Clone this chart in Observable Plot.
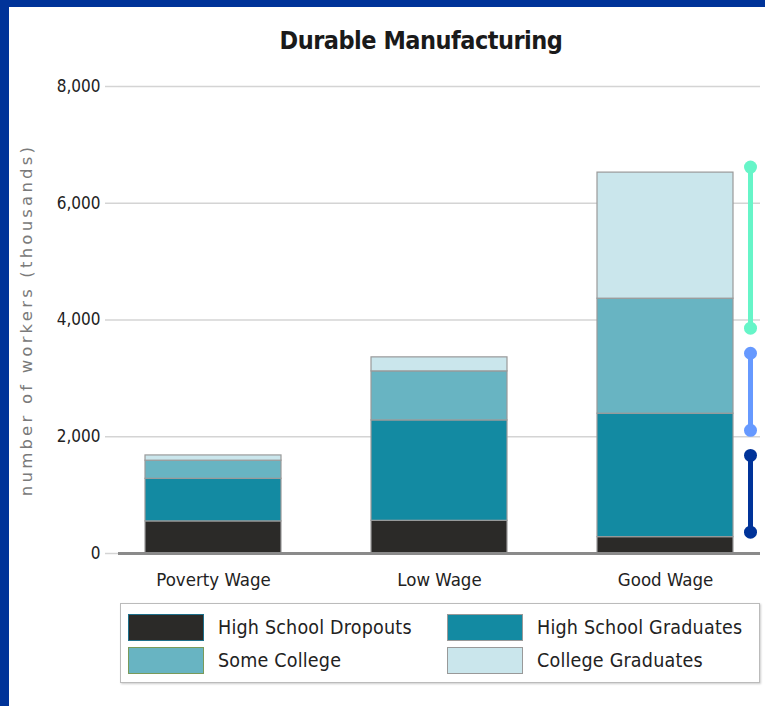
<!DOCTYPE html>
<html><head><meta charset="utf-8">
<script src="https://cdn.jsdelivr.net/npm/d3@7"></script>
<script src="https://cdn.jsdelivr.net/npm/@observablehq/plot@0.6"></script>
<style>
body{margin:0;background:#fff;width:765px;height:706px;position:relative;overflow:hidden;font-family:"DejaVu Sans Condensed","DejaVu Sans",sans-serif;color:#222}
#bt{position:absolute;left:0;top:0;width:765px;height:7px;background:#003399}
#bl{position:absolute;left:0;top:0;width:9px;height:706px;background:#003399}
#title{position:absolute;top:26px;left:121px;width:600px;text-align:center;font-size:25px;font-weight:bold;line-height:30px;color:#1a1a1a;letter-spacing:-0.5px}
#chart{position:absolute;left:0;top:0}
#legend{position:absolute;left:120px;top:603px;width:638px;height:78px;border:1px solid #bbb;box-shadow:1px 1px 2px #ccc;background:#fff}
.item{position:absolute;display:flex;align-items:center;font-size:19.5px;color:#222;letter-spacing:0.2px}
.sw{width:74px;height:25px;margin-right:14px;border:1px solid #999}
</style>
</head><body>
<div id="bt"></div><div id="bl"></div>
<div id="chart"></div>
<div id="title">Durable Manufacturing</div>
<div id="legend"></div>
<script>
const wages = ["Poverty Wage", "Low Wage", "Good Wage"];
const levels = ["High School Dropouts", "High School Graduates", "Some College", "College Graduates"];
const colors = ["#2b2a28", "#138aa2", "#68b4c2", "#cae6ec"];
const swatchBorders = ["#1d6f8a", "#999", "#7a9a5a", "#999"];
const dropouts = [550, 560, 280];
const hsGrads = [730, 1720, 2115];
const someCollege = [310, 840, 1970];
const collegeGrads = [90, 240, 2160];
const yTicks = [0, 2000, 4000, 6000, 8000];
const yLabel = "number of workers (thousands)";
const rangeTops = [6620, 3430, 1680];
const rangeBottoms = [3860, 2110, 365];
const rangeColors = ["#66f5c8", "#6699ff", "#003399"];

const series = [dropouts, hsGrads, someCollege, collegeGrads];
const rows = [];
wages.forEach((w, i) => levels.forEach((l, j) => rows.push({wage: w, level: l, value: series[j][i]})));
const ranges = rangeTops.map((t, i) => ({wage: "Good Wage", top: t, bottom: rangeBottoms[i], color: rangeColors[i]}));

const plot = Plot.plot({
  width: 765, height: 600,
  marginLeft: 118, marginRight: 5, marginTop: 86, marginBottom: 47,
  style: {fontFamily: '"DejaVu Sans Condensed","DejaVu Sans",sans-serif', fontSize: "17px", color: "#222", background: "transparent"},
  x: {domain: wages, paddingInner: 0.4, paddingOuter: 0.12, label: null},
  y: {domain: [0, 8000], label: null},
  color: {domain: levels, range: colors},
  marks: [
    Plot.gridY(yTicks, {stroke: "#d4d4d4", strokeOpacity: 1, strokeWidth: 1.5}),
    Plot.axisY(yTicks, {tickSize: 13, tickPadding: 5, stroke: "#d4d4d4", strokeWidth: 1.5, tickFormat: d3.format(","), label: null, fontSize: 17}),
    Plot.axisY({ticks: [], label: yLabel, labelAnchor: "center", labelArrow: "none", labelOffset: 98, fill: "#7a7a7a", fontSize: 16.5, fontFamily: '"DejaVu Sans",sans-serif'}),
    Plot.axisX({tickSize: 0, tickPadding: 19, label: null, fontSize: 18.5}),
    Plot.barY(rows, {x: "wage", y: "value", fill: "level", stroke: "#9a9a9a", strokeWidth: 1.2, order: levels}),
    Plot.ruleY([0], {stroke: "#8a8a8a", strokeWidth: 3}),
    Plot.ruleX(ranges, {x: "wage", y1: "top", y2: "bottom", stroke: "color", strokeWidth: 5, dx: 85}),
    Plot.dot(ranges, {x: "wage", y: "top", fill: "color", r: 6.5, dx: 85}),
    Plot.dot(ranges, {x: "wage", y: "bottom", fill: "color", r: 6.5, dx: 85})
  ]
});
plot.querySelectorAll("text").forEach(t => {
  if (t.textContent.trim() === yLabel) t.style.letterSpacing = "3.2px";
});
document.getElementById("chart").appendChild(plot);

const lg = document.getElementById("legend");
levels.forEach((l, j) => {
  const d = document.createElement("div");
  d.className = "item";
  d.style.left = (j % 2 === 0 ? 7 : 326) + "px";
  d.style.top = (j < 2 ? 10 : 43) + "px";
  const s = document.createElement("div");
  s.className = "sw";
  s.style.background = colors[j];
  s.style.borderColor = swatchBorders[j];
  d.appendChild(s);
  const t = document.createElement("span");
  t.textContent = l;
  d.appendChild(t);
  lg.appendChild(d);
});
</script>
</body></html>
